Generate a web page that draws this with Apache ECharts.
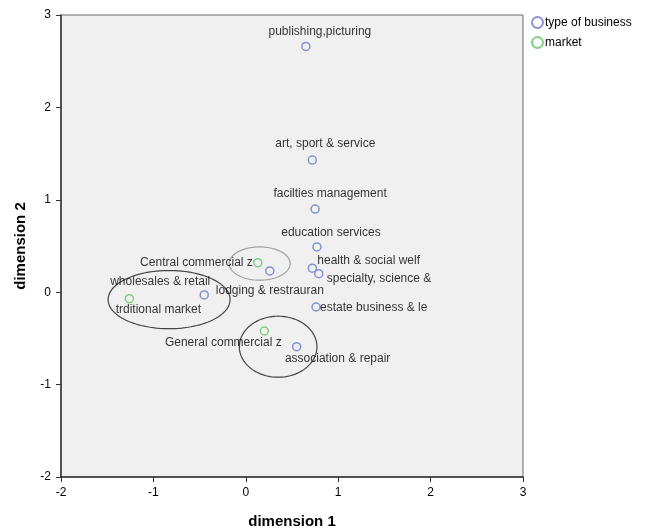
<!DOCTYPE html>
<html>
<head>
<meta charset="utf-8">
<script src="https://cdn.jsdelivr.net/npm/echarts@6/dist/echarts.min.js"></script>
<style>html,body{margin:0;padding:0;background:#fff}#c{width:649px;height:529px}</style>
</head>
<body>
<div id="c"></div>
<script>
// ---- data ----
const businessNames = ['publishing,picturing','art, sport & service','facilties management','education services','health & social welf','specialty, science &','lodging & restrauran','estate business & le','association & repair','wholesales & retail'];
const businessX = [0.65, 0.72, 0.75, 0.77, 0.72, 0.79, 0.26, 0.76, 0.55, -0.45];
const businessY = [2.66, 1.43, 0.90, 0.49, 0.26, 0.20, 0.23, -0.16, -0.59, -0.03];
const marketNames = ['Central commercial z','trditional market','General commercial z'];
const marketX = [0.13, -1.26, 0.20];
const marketY = [0.32, -0.07, -0.42];
// group outlines (data units): centre x, centre y, radius x, radius y
const ellipseCX = [0.15, -0.83, 0.35];
const ellipseCY = [0.31, -0.08, -0.59];
const ellipseRX = [0.33, 0.66, 0.42];
const ellipseRY = [0.18, 0.315, 0.33];
const axisTicks = [-2, -1, 0, 1, 2, 3];

// ---- label placement (style) ----
const businessLabelStyle = [
  {align:'center', offset:[14,-15]},
  {align:'center', offset:[13,-16]},
  {align:'center', offset:[15,-15]},
  {align:'center', offset:[14,-14]},
  {align:'left', offset:[5,-7]},
  {align:'left', offset:[8,5]},
  {align:'center', offset:[0,20]},
  {align:'left', offset:[4,1]},
  {align:'center', offset:[41,12]},
  {align:'center', offset:[-44,-13]}
];
const marketLabelStyle = [
  {align:'right', offset:[-5,0]},
  {align:'center', offset:[29,11]},
  {align:'center', offset:[-41,12]}
];
const ellipseColors = ['#a0a0a0', '#444444', '#444444'];

const FONT = 'Arial, Liberation Sans, sans-serif';
const BLUE = '#6a7bcb';
const GREEN = '#62c462';

function pts(names, xs, ys, styles) {
  return names.map((n, i) => ({
    name: n,
    value: [xs[i], ys[i]],
    label: {
      show: true, formatter: n, position: 'inside',
      align: styles[i].align, verticalAlign: 'middle', offset: styles[i].offset,
      color: '#000000', fontSize: 12, fontFamily: FONT
    }
  }));
}

const chart = echarts.init(document.getElementById('c'), null, {renderer: 'canvas'});
chart.setOption({
  animation: false,
  backgroundColor: '#ffffff',
  grid: {left: 61, right: 126, top: 15, bottom: 52, outerBoundsMode: 'none', containLabel: false,
         show: true, backgroundColor: '#f0f0f0', borderColor: '#6a6a6a', borderWidth: 1},
  legend: {
    orient: 'vertical', left: 531, top: 16, itemWidth: 11, itemHeight: 11, itemGap: 7, padding: 0,
    icon: 'circle',
    textStyle: {fontSize: 12, fontFamily: FONT, color: '#000000', padding: [0,0,0,-3]},
    data: ['type of business', 'market']
  },
  xAxis: {
    type: 'value', min: axisTicks[0], max: axisTicks[axisTicks.length-1], interval: 1,
    name: 'dimension 1', nameLocation: 'middle', nameGap: 37,
    nameTextStyle: {fontSize: 15, fontWeight: 'bold', fontFamily: FONT, color: '#000'},
    axisLine: {show: true, onZero: false, lineStyle: {color: '#333', width: 1.5}},
    axisTick: {show: true, length: 5, lineStyle: {color: '#333'}},
    axisLabel: {fontSize: 12, fontFamily: FONT, color: '#000', margin: 10},
    splitLine: {show: false}
  },
  yAxis: {
    type: 'value', min: axisTicks[0], max: axisTicks[axisTicks.length-1], interval: 1,
    name: 'dimension 2', nameLocation: 'middle', nameGap: 33,
    nameTextStyle: {fontSize: 15, fontWeight: 'bold', fontFamily: FONT, color: '#000'},
    axisLine: {show: true, onZero: false, lineStyle: {color: '#333', width: 1.5}},
    axisTick: {show: true, length: 5, lineStyle: {color: '#333'}},
    axisLabel: {fontSize: 12, fontFamily: FONT, color: '#000', margin: 10},
    splitLine: {show: false}
  },
  series: [
    {
      type: 'custom', name: 'groups', silent: true, z: 1,
      data: ellipseCX.map((cx, i) => [cx, ellipseCY[i], ellipseRX[i], ellipseRY[i], i]),
      encode: {x: 0, y: 1},
      renderItem: function (params, api) {
        const cx = api.value(0), cy = api.value(1), rx = api.value(2), ry = api.value(3), idx = api.value(4);
        const c = api.coord([cx, cy]);
        const e = api.coord([cx + rx, cy + ry]);
        const prx = e[0] - c[0], pry = c[1] - e[1];
        const points = [];
        for (let k = 0; k < 120; k++) {
          const a = k / 120 * Math.PI * 2;
          points.push([c[0] + prx * Math.cos(a), c[1] + pry * Math.sin(a)]);
        }
        return {type: 'polygon', shape: {points: points}, style: {fill: 'none', stroke: ellipseColors[idx], lineWidth: 1.2}};
      }
    },
    {
      type: 'scatter', name: 'type of business', z: 3,
      symbol: 'circle', symbolSize: 8,
      itemStyle: {color: 'rgba(0,0,0,0)', borderColor: BLUE, borderWidth: 1.5},
      data: pts(businessNames, businessX, businessY, businessLabelStyle)
    },
    {
      type: 'scatter', name: 'market', z: 3,
      symbol: 'circle', symbolSize: 8,
      itemStyle: {color: 'rgba(0,0,0,0)', borderColor: GREEN, borderWidth: 1.5},
      data: pts(marketNames, marketX, marketY, marketLabelStyle)
    }
  ]
});
</script>
</body>
</html>
